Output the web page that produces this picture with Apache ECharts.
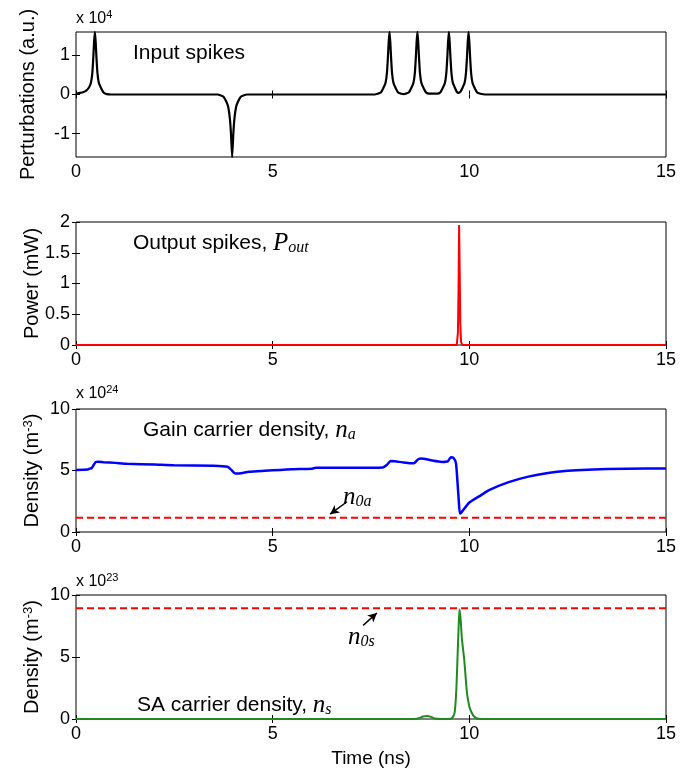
<!DOCTYPE html>
<html><head><meta charset="utf-8">
<script src="https://cdn.jsdelivr.net/npm/echarts@6/dist/echarts.min.js"></script>
<style>html,body{margin:0;padding:0;background:#fff}#c{width:697px;height:774px}</style>
</head><body><div id="c"></div>
<script>
// ---------- DATA ----------
// Panel 1: input perturbations (x 1e4)
const inputTime = [0,0.1,0.18,0.26,0.33,0.38,0.415,0.44,0.46,0.48,0.50,0.52,0.545,0.58,0.63,0.7,0.78,0.9,
  3.6,3.67,3.75,3.82,3.87,3.91,3.94,3.97,4.0,4.03,4.07,4.12,4.19,4.27,4.35,
  7.6,7.67,7.75,7.82,7.87,7.905,7.93,7.95,7.97,7.99,8.01,8.035,8.07,8.12,8.19,8.27,8.33,
  8.38,8.46,8.53,8.58,8.615,8.64,8.66,8.68,8.70,8.72,8.745,8.78,8.83,8.9,8.98,9.08,
  9.18,9.26,9.33,9.38,9.415,9.44,9.46,9.48,9.50,9.52,9.545,9.58,9.63,9.68,9.73,
  9.78,9.83,9.88,9.915,9.94,9.96,9.98,10.0,10.02,10.045,10.08,10.13,10.2,10.28,10.4,15];
const inputValue = [0.02,0.04,0.06,0.1,0.18,0.3,0.55,0.95,1.35,1.6,1.35,0.95,0.55,0.3,0.18,0.05,0.01,0,
  0,-0.02,-0.06,-0.18,-0.32,-0.6,-1.0,-1.6,-1.0,-0.6,-0.32,-0.18,-0.06,-0.02,0,
  0,0.02,0.05,0.18,0.3,0.55,0.95,1.35,1.6,1.35,0.95,0.55,0.3,0.18,0.05,0.02,0.01,
  0.02,0.05,0.18,0.3,0.55,0.95,1.35,1.6,1.35,0.95,0.55,0.3,0.18,0.05,0.02,0.02,
  0.02,0.05,0.18,0.3,0.55,0.95,1.35,1.6,1.35,0.95,0.55,0.3,0.18,0.07,0.04,
  0.08,0.18,0.3,0.55,0.95,1.35,1.6,1.35,0.95,0.55,0.3,0.18,0.05,0.02,0,0];

// Panel 2: output power (mW)
const outTime = [0,9.68,9.71,9.725,9.74,9.755,9.77,9.79,9.82,15];
const outValue = [0,0,0.2,0.9,1.95,1.2,0.35,0.05,0,0];

// Panel 3: gain carrier density (x 1e24)
const gainTime = [0,0.3,0.35,0.4,0.45,0.5,0.55,0.7,1.0,1.3,2.0,2.5,3.5,3.85,3.95,4.05,4.2,4.4,4.8,5.2,5.5,6.0,6.1,7.0,7.8,7.9,8.0,8.1,8.3,8.5,8.6,8.7,8.78,9.0,9.3,9.45,9.53,9.6,9.66,9.7,9.73,9.76,9.8,10.0,10.3,10.5,11.0,11.5,12.0,12.5,13.0,14.0,15.0];
const gainValue = [5.05,5.08,5.15,5.2,5.45,5.68,5.72,5.68,5.62,5.55,5.48,5.42,5.38,5.3,5.05,4.75,4.78,4.9,4.98,5.05,5.1,5.15,5.22,5.22,5.25,5.45,5.78,5.76,5.66,5.58,5.6,5.92,5.98,5.85,5.7,5.75,6.08,6.02,5.6,4.0,2.6,1.5,1.6,2.4,3.0,3.4,4.05,4.5,4.8,4.98,5.07,5.15,5.17];
const n0aTime = [0,15];
const n0aValue = [1.15,1.15];

// Panel 4: SA carrier density (x 1e23)
const saTime = [0,8.6,8.72,8.82,8.93,9.03,9.13,9.3,9.5,9.58,9.63,9.67,9.7,9.73,9.75,9.78,9.81,9.87,9.94,10.0,10.06,10.12,10.2,10.3,15];
const saValue = [0,0,0.06,0.2,0.25,0.17,0.04,0,0,0.15,0.6,2.4,5.0,7.6,8.85,8.0,6.5,4.8,2.1,1.0,0.5,0.2,0.04,0,0];
const n0sTime = [0,15];
const n0sValue = [8.93,8.93];

// Axes / ticks
const xTicks = [0,5,10,15];
const y1Ticks = [-1,0,1];

// ---------- CHART ----------
const zip = (a,b)=>a.map((v,i)=>[v,b[i]]);
const FONT = 'Liberation Sans, Arial, sans-serif';
const SERIF = 'Liberation Serif, Times New Roman, serif';
const grids = [
  {left:76,width:590,top:32,height:125},
  {left:76,width:590,top:222,height:123},
  {left:76,width:590,top:409,height:123},
  {left:76,width:590,top:595,height:124}
].map(g=>Object.assign(g,{show:true,borderColor:'#000',borderWidth:1,backgroundColor:'#fff'}));

const yRanges = [
  {min:-1.6,max:1.6,custom:y1Ticks,name:'Perturbations (a.u.)',gap:38},
  {min:0,max:2,interval:0.5,name:'Power (mW)',gap:34},
  {min:0,max:10,interval:5,name:'Density (m{sup|-3})',gap:34},
  {min:0,max:10,interval:5,name:'Density (m{sup|-3})',gap:34}
];

const xAxes=[], yAxes=[];
for(let i=0;i<4;i++){
  xAxes.push({type:'value',gridIndex:i,min:0,max:15,interval:5,position:'bottom',
    axisLine:{show:false},splitLine:{show:false},
    axisTick:{inside:true,length:4,lineStyle:{color:'#000'}},
    axisLabel:{color:'#000',fontSize:18,fontFamily:FONT,margin:6},
    name: i===3?'Time (ns)':'', nameLocation:'middle', nameGap:30, nameMoveOverlap:false,
    nameTextStyle:{color:'#000',fontSize:19,fontFamily:FONT}});
  xAxes.push({type:'value',gridIndex:i,min:0,max:15,interval:5,position:'top',
    axisLine:{show:false},splitLine:{show:false},
    axisTick:{inside:true,length:4,lineStyle:{color:'#000'}},axisLabel:{show:false}});
  const r=yRanges[i];
  const base={type:'value',gridIndex:i,min:r.min,max:r.max,splitLine:{show:false},axisLine:{show:false}};
  if(r.interval) base.interval=r.interval;
  const left=Object.assign({},base,{position:'left',
    axisTick:{inside:true,length:4,lineStyle:{color:'#000'}},
    axisLabel:{color:'#000',fontSize:18,fontFamily:FONT,margin:6},
    name:r.name,nameLocation:'middle',nameGap:r.gap,nameMoveOverlap:false,
    nameTextStyle:{color:'#000',fontSize:20,fontFamily:FONT,
      rich:{sup:{fontSize:13,fontFamily:FONT,color:'#000',verticalAlign:'top',lineHeight:12}}}});
  const right=Object.assign({},base,{position:'right',
    axisTick:{inside:true,length:4,lineStyle:{color:'#000'}},axisLabel:{show:false}});
  if(r.custom){
    left.axisLabel.customValues=r.custom; left.axisTick.customValues=r.custom;
    right.axisTick.customValues=r.custom;
  }
  yAxes.push(left,right);
}

const arrowLine = (a,b)=>({silent:true,symbol:['none','arrow'],symbolSize:[7,9],
  label:{show:false},lineStyle:{color:'#000',type:'solid',width:1.5},
  data:[[{coord:a},{coord:b}]]});

const series=[
  {type:'line',xAxisIndex:0,yAxisIndex:0,data:zip(inputTime,inputValue),showSymbol:false,smooth:0.15,
    lineStyle:{color:'#000',width:2.2},itemStyle:{color:'#000'}},
  {type:'line',xAxisIndex:2,yAxisIndex:2,data:zip(outTime,outValue),showSymbol:false,
    lineStyle:{color:'#ff0000',width:2},itemStyle:{color:'#f00'}},
  {type:'line',xAxisIndex:4,yAxisIndex:4,data:zip(gainTime,gainValue),showSymbol:false,smooth:0.2,
    lineStyle:{color:'#0000ff',width:2.5},itemStyle:{color:'#00f'}},
  {type:'line',xAxisIndex:4,yAxisIndex:4,data:zip(n0aTime,n0aValue),showSymbol:false,
    lineStyle:{color:'#ff0000',width:2,type:[7,4]},itemStyle:{color:'#f00'},
    markLine:arrowLine([6.89,2.46],[6.46,1.45])},
  {type:'line',xAxisIndex:6,yAxisIndex:6,data:zip(saTime,saValue),showSymbol:false,smooth:0.2,
    lineStyle:{color:'#1f8a1f',width:2},itemStyle:{color:'#1f8a1f'}},
  {type:'line',xAxisIndex:6,yAxisIndex:6,data:zip(n0sTime,n0sValue),showSymbol:false,
    lineStyle:{color:'#ff0000',width:2,type:[7,4]},itemStyle:{color:'#f00'},
    markLine:arrowLine([7.3,7.55],[7.65,8.55])}
];

const richMain = {
  t:{fontSize:21,fontFamily:FONT,color:'#000',verticalAlign:'middle',lineHeight:26},
  i:{fontSize:25,fontFamily:SERIF,fontStyle:'italic',color:'#000',verticalAlign:'middle',lineHeight:26},
  sub:{fontSize:16,fontFamily:SERIF,fontStyle:'italic',color:'#000',verticalAlign:'bottom',lineHeight:14}
};
const richExp = {
  a:{fontSize:16,fontFamily:FONT,color:'#000',verticalAlign:'bottom',lineHeight:18},
  s:{fontSize:11,fontFamily:FONT,color:'#000',verticalAlign:'top',lineHeight:10}
};
const txt=(x,y,text,rich)=>({type:'text',x:x,y:y,z:100,style:{text:text,rich:rich,verticalAlign:'middle',align:'left'}});

const graphic=[
  txt(133,53,'{t|Input spikes}',richMain),
  txt(133,243,'{t|Output spikes, }{i|P}{sub|out}',richMain),
  txt(143,430,'{t|Gain carrier density, }{i|n}{sub|a}',richMain),
  txt(137,705,'{t|SA carrier density, }{i|n}{sub|s}',richMain),
  txt(343,497,'{i|n}{sub|0a}',richMain),
  txt(348,637,'{i|n}{sub|0s}',richMain),
  txt(76,18,'{a|x 10}{s|4}',richExp),
  txt(76,393,'{a|x 10}{s|24}',richExp),
  txt(76,581,'{a|x 10}{s|23}',richExp)
];

const chart=echarts.init(document.getElementById('c'),null,{renderer:'canvas'});
chart.setOption({animation:false,backgroundColor:'#fff',grid:grids,xAxis:xAxes,yAxis:yAxes,series:series,graphic:graphic});
</script></body></html>
